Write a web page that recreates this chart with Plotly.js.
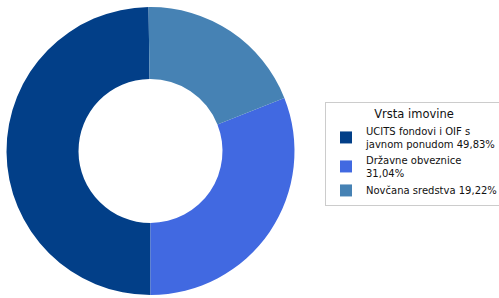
<!DOCTYPE html>
<html><head><meta charset="utf-8">
<script src="https://cdn.plot.ly/plotly-3.0.1.min.js"></script>
<style>html,body{margin:0;padding:0;background:#fff}#chart{width:499px;height:298px}</style>
</head><body><div id="chart"></div>
<script>
var categories = ["UCITS fondovi i OIF s<br>javnom ponudom 49,83%", "Državne obveznice<br>31,04%", "Novčana sredstva 19,22%"];
var values = [49.83, 31.04, 19.22];
var colors = ["#023F88", "#4169E1", "#4682B4"];
var legendTitle = "Vrsta imovine";

Plotly.newPlot("chart", [{
  type: "pie",
  labels: categories,
  values: values,
  hole: 0.5,
  sort: false,
  direction: "counterclockwise",
  rotation: 180,
  marker: {colors: colors, line: {width: 0}},
  textinfo: "none",
  hoverinfo: "label",
  domain: {x: [6.5/499, 294.5/499], y: [3/298, 291/298]}
}], {
  width: 499, height: 298,
  margin: {l: 0, r: 0, t: 0, b: 0, autoexpand: false},
  paper_bgcolor: "#fff",
  font: {family: "DejaVu Sans", size: 10, color: "#111"},
  showlegend: true,
  legend: {
    xref: "container", yref: "container",
    x: 325/499, xanchor: "left", y: 1 - 102/298, yanchor: "top",
    bordercolor: "#ccc", borderwidth: 1,
    title: {text: legendTitle, side: "top center", font: {size: 11.5}},
    font: {size: 10},
    tracegroupgap: 0
  }
}, {displayModeBar: false, staticPlot: true});
</script></body></html>
